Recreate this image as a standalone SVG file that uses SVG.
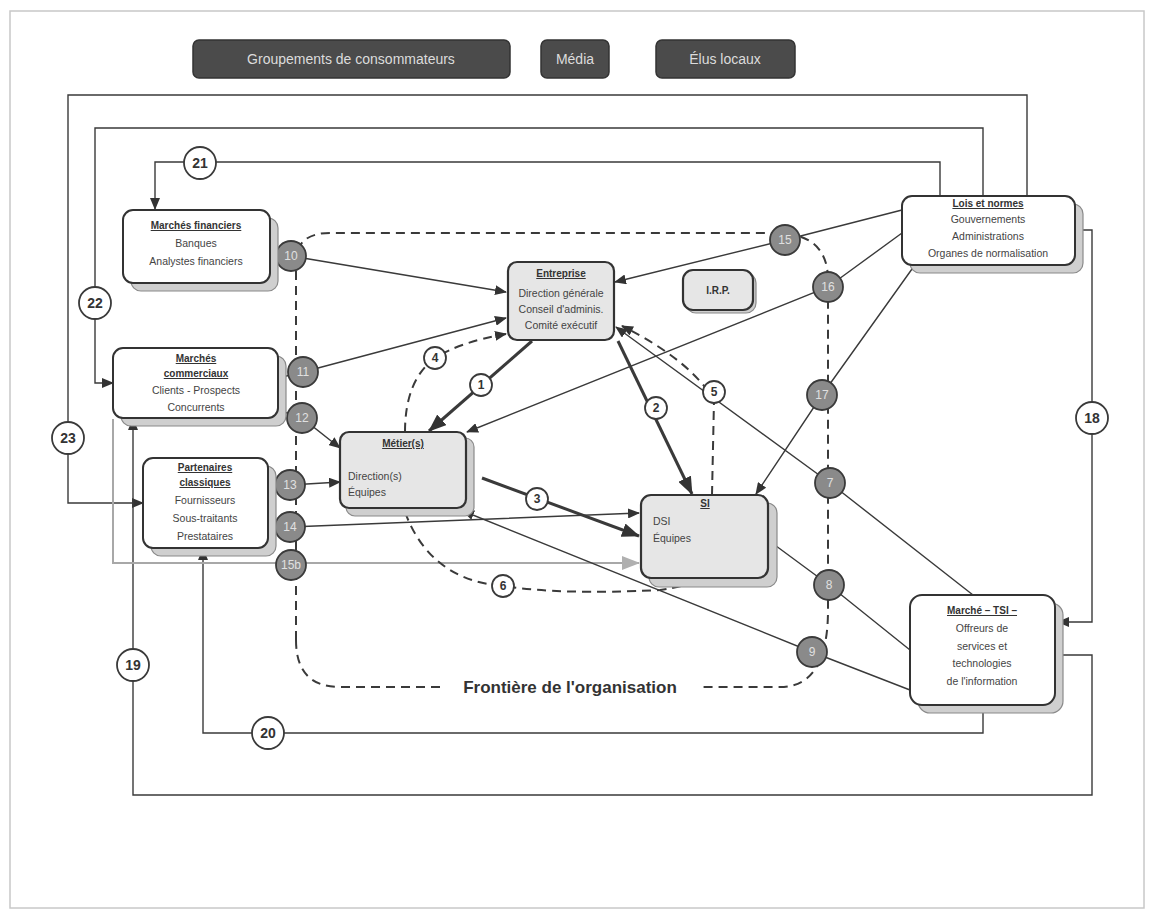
<svg xmlns="http://www.w3.org/2000/svg" width="1151" height="915" viewBox="0 0 1151 915">
<defs>
<style>
.bg{fill:#fff}
.frame{fill:none;stroke:#c8c8c8;stroke-width:1.5}
.top{fill:#4b4b4b;stroke:#333;stroke-width:1.5}
.toptxt{font-family:"Liberation Sans",Arial,sans-serif;font-size:14px;fill:#dcdcdc;text-anchor:middle}
.box{fill:#fff;stroke:#333;stroke-width:2}
.gbox{fill:#e6e6e6;stroke:#333;stroke-width:2.2}
.shadow{fill:#cfcfcf;stroke:#8a8a8a;stroke-width:1.2}
.t{font-family:"Liberation Sans",Arial,sans-serif;font-size:10.5px;fill:#444;text-anchor:middle}
.tl{font-family:"Liberation Sans",Arial,sans-serif;font-size:10.5px;fill:#444}
.tt{font-family:"Liberation Sans",Arial,sans-serif;font-size:10px;font-weight:bold;fill:#333;text-anchor:middle;text-decoration:underline}
.ln{fill:none;stroke:#3a3a3a;stroke-width:1.4}
.thick{fill:none;stroke:#3a3a3a;stroke-width:3}
.dash{fill:none;stroke:#3a3a3a;stroke-width:2;stroke-dasharray:9 6}
.gray{fill:none;stroke:#a8a8a8;stroke-width:2}
.cg{fill:#8a8a8a;stroke:#3a3a3a;stroke-width:1.8}
.cw{fill:#fff;stroke:#3a3a3a;stroke-width:1.8}
.ng{font-family:"Liberation Sans",Arial,sans-serif;font-size:12px;fill:#e0e0e0;text-anchor:middle}
.nw{font-family:"Liberation Sans",Arial,sans-serif;font-size:12px;font-weight:bold;fill:#333;text-anchor:middle}
.nb{font-family:"Liberation Sans",Arial,sans-serif;font-size:14px;font-weight:bold;fill:#333;text-anchor:middle}
.front{font-family:"Liberation Sans",Arial,sans-serif;font-size:17px;font-weight:bold;fill:#333;text-anchor:middle}
</style>
<marker id="a" markerWidth="12" markerHeight="10" refX="11" refY="5" orient="auto" markerUnits="userSpaceOnUse"><path d="M0,0 L12,5 L0,10 Z" fill="#333"/></marker>
<marker id="ab" markerWidth="18" markerHeight="14" refX="17" refY="7" orient="auto" markerUnits="userSpaceOnUse"><path d="M0,0 L18,7 L0,14 Z" fill="#333"/></marker>
<marker id="ag" markerWidth="18" markerHeight="14" refX="17" refY="7" orient="auto" markerUnits="userSpaceOnUse"><path d="M0,0 L18,7 L0,14 Z" fill="#b0b0b0"/></marker>
</defs>
<rect class="bg" x="0" y="0" width="1151" height="915"/>
<rect class="frame" x="10" y="11" width="1134" height="897"/>

<g id="top-boxes">
<g id="groupements"><rect class="top" x="193" y="40" width="317" height="38" rx="6"/><text class="toptxt" x="351" y="64">Groupements de consommateurs</text></g>
<g id="media"><rect class="top" x="541" y="40" width="68" height="38" rx="6"/><text class="toptxt" x="575" y="64">Média</text></g>
<g id="elus"><rect class="top" x="656" y="40" width="139" height="38" rx="6"/><text class="toptxt" x="725" y="64">Élus locaux</text></g>
</g>

<g id="connectors">
<path class="dash" d="M296,640 L296,262 Q296,233 330,233 L775,233 Q828,233 828,280 L828,610 Q828,687 780,687 L700,687"/>
<path class="dash" d="M440,687 L340,687 Q296,687 296,640"/>
<path class="ln" d="M1027,197 L1027,95 L68,95 L68,503 L143,503" marker-end="url(#a)"/>
<path class="ln" d="M983,197 L983,128 L95,128 L95,383 L113,383" marker-end="url(#a)"/>
<path class="ln" d="M940,197 L940,162 L155,162 L155,209" marker-end="url(#a)"/>
<path class="ln" d="M1075,230 L1092,230 L1092,622 L1058,622" marker-end="url(#a)"/>
<path class="ln" d="M1055,655 L1092,655 L1092,795 L133,795 L133,419" marker-end="url(#a)"/>
<path class="ln" d="M983,705 L983,733 L203,733 L203,549" marker-end="url(#a)"/>
<path class="gray" d="M113,419 L113,563 L639,563" marker-end="url(#ag)"/>
<path class="ln" d="M270,247 L291,256 L506,292" marker-end="url(#a)"/>
<path class="ln" d="M278,378 L303,372 L506,318" marker-end="url(#a)"/>
<path class="ln" d="M278,410 L302,418 L340,448" marker-end="url(#a)"/>
<path class="ln" d="M268,485 L290,485 L340,482" marker-end="url(#a)"/>
<path class="ln" d="M268,527 L290,527 L639,513" marker-end="url(#a)"/>
<path class="ln" d="M902,210 L785,240 L615,282" marker-end="url(#a)"/>
<path class="ln" d="M902,233 L828,287 L467,432" marker-end="url(#a)"/>
<path class="ln" d="M917,262 L822,395 L756,494" marker-end="url(#a)"/>
<path class="ln" d="M973,595 L830,483 L616,327" marker-end="url(#a)"/>
<path class="ln" d="M768,540 L829,585 L910,650"/>
<path class="ln" d="M910,690 L812,652 L463,511" marker-end="url(#a)"/>
<path class="thick" d="M532,341 L429,431" marker-end="url(#ab)"/>
<path class="thick" d="M618,341 L692,494" marker-end="url(#ab)"/>
<path class="thick" d="M482,478 L639,536" marker-end="url(#ab)"/>
<path class="dash" d="M405,432 Q405,380 435,358 Q460,342 506,334" marker-end="url(#a)"/>
<path class="dash" d="M712,495 L714,400 Q690,360 622,326" marker-end="url(#a)"/>
<path class="dash" d="M405,512 Q430,580 503,586 Q560,595 660,590 Q690,586 690,580"/>
</g>

<g id="circles">
<g id="c1"><circle class="cw" cx="481" cy="385" r="11"/><text class="nw" x="481" y="389">1</text></g>
<g id="c2"><circle class="cw" cx="656" cy="408" r="11"/><text class="nw" x="656" y="412">2</text></g>
<g id="c3"><circle class="cw" cx="537" cy="499" r="11"/><text class="nw" x="537" y="503">3</text></g>
<g id="c4"><circle class="cw" cx="435" cy="358" r="11"/><text class="nw" x="435" y="362">4</text></g>
<g id="c5"><circle class="cw" cx="714" cy="392" r="11"/><text class="nw" x="714" y="396">5</text></g>
<g id="c6"><circle class="cw" cx="503" cy="586" r="11"/><text class="nw" x="503" y="590">6</text></g>
<g id="c7"><circle class="cg" cx="830" cy="483" r="15"/><text class="ng" x="830" y="487">7</text></g>
<g id="c8"><circle class="cg" cx="829" cy="585" r="15"/><text class="ng" x="829" y="589">8</text></g>
<g id="c9"><circle class="cg" cx="812" cy="652" r="15"/><text class="ng" x="812" y="656">9</text></g>
<g id="c10"><circle class="cg" cx="291" cy="256" r="15"/><text class="ng" x="291" y="260">10</text></g>
<g id="c11"><circle class="cg" cx="303" cy="372" r="15"/><text class="ng" x="303" y="376">11</text></g>
<g id="c12"><circle class="cg" cx="302" cy="418" r="15"/><text class="ng" x="302" y="422">12</text></g>
<g id="c13"><circle class="cg" cx="290" cy="485" r="15"/><text class="ng" x="290" y="489">13</text></g>
<g id="c14"><circle class="cg" cx="290" cy="527" r="15"/><text class="ng" x="290" y="531">14</text></g>
<g id="c15b"><circle class="cg" cx="291" cy="565" r="15"/><text class="ng" x="291" y="569">15b</text></g>
<g id="c15"><circle class="cg" cx="785" cy="240" r="15"/><text class="ng" x="785" y="244">15</text></g>
<g id="c16"><circle class="cg" cx="828" cy="287" r="15"/><text class="ng" x="828" y="291">16</text></g>
<g id="c17"><circle class="cg" cx="822" cy="395" r="15"/><text class="ng" x="822" y="399">17</text></g>
<g id="c18"><circle class="cw" cx="1092" cy="418" r="16"/><text class="nb" x="1092" y="423">18</text></g>
<g id="c19"><circle class="cw" cx="133" cy="665" r="16"/><text class="nb" x="133" y="670">19</text></g>
<g id="c20"><circle class="cw" cx="268" cy="733" r="16"/><text class="nb" x="268" y="738">20</text></g>
<g id="c21"><circle class="cw" cx="200" cy="163" r="16"/><text class="nb" x="200" y="168">21</text></g>
<g id="c22"><circle class="cw" cx="95" cy="303" r="16"/><text class="nb" x="95" y="308">22</text></g>
<g id="c23"><circle class="cw" cx="68" cy="438" r="16"/><text class="nb" x="68" y="443">23</text></g>
</g>

<g id="frontiere"><rect x="445" y="676" width="250" height="22" fill="#fff"/><text class="front" x="570" y="693">Frontière de l'organisation</text></g>

<g id="marches-financiers">
<rect class="shadow" x="131" y="218" width="147" height="73" rx="10"/>
<rect class="box" x="123" y="210" width="147" height="73" rx="10"/>
<text class="tt" x="196" y="229">Marchés financiers</text>
<text class="t" x="196" y="247">Banques</text>
<text class="t" x="196" y="265">Analystes financiers</text>
</g>

<g id="marches-commerciaux">
<rect class="shadow" x="121" y="356" width="165" height="70" rx="10"/>
<rect class="box" x="113" y="348" width="165" height="70" rx="10"/>
<text class="tt" x="196" y="362">Marchés</text>
<text class="tt" x="196" y="377">commerciaux</text>
<text class="t" x="196" y="394">Clients - Prospects</text>
<text class="t" x="196" y="411">Concurrents</text>
</g>

<g id="partenaires">
<rect class="shadow" x="151" y="466" width="125" height="90" rx="10"/>
<rect class="box" x="143" y="458" width="125" height="90" rx="10"/>
<text class="tt" x="205" y="471">Partenaires</text>
<text class="tt" x="205" y="486">classiques</text>
<text class="t" x="205" y="504">Fournisseurs</text>
<text class="t" x="205" y="522">Sous-traitants</text>
<text class="t" x="205" y="540">Prestataires</text>
</g>

<g id="entreprise">
<rect class="gbox" x="508" y="262" width="106" height="78" rx="9"/>
<text class="tt" x="561" y="277">Entreprise</text>
<text class="t" x="561" y="297">Direction générale</text>
<text class="t" x="561" y="313">Conseil d'adminis.</text>
<text class="t" x="561" y="329">Comité exécutif</text>
</g>

<g id="irp">
<rect class="shadow" x="686" y="273" width="70" height="40" rx="10"/>
<rect class="gbox" x="683" y="270" width="70" height="40" rx="10"/>
<text class="tt" x="718" y="294" style="text-decoration:none">I.R.P.</text>
</g>

<g id="metiers">
<rect class="shadow" x="346" y="438" width="128" height="78" rx="9"/>
<rect class="gbox" x="340" y="432" width="126" height="76" rx="9"/>
<text class="tt" x="403" y="447">Métier(s)</text>
<text class="tl" x="348" y="480">Direction(s)</text>
<text class="tl" x="348" y="496">Équipes</text>
</g>

<g id="si">
<rect class="shadow" x="649" y="503" width="128" height="84" rx="10"/>
<rect class="gbox" x="641" y="495" width="127" height="83" rx="10"/>
<text class="tt" x="705" y="507">SI</text>
<text class="tl" x="653" y="525">DSI</text>
<text class="tl" x="653" y="542">Équipes</text>
</g>

<g id="lois">
<rect class="shadow" x="910" y="204" width="173" height="69" rx="10"/>
<rect class="box" x="902" y="196" width="173" height="69" rx="10"/>
<text class="tt" x="988" y="207">Lois et normes</text>
<text class="t" x="988" y="223">Gouvernements</text>
<text class="t" x="988" y="240">Administrations</text>
<text class="t" x="988" y="257">Organes de normalisation</text>
</g>

<g id="marche-tsi">
<rect class="shadow" x="918" y="603" width="145" height="110" rx="12"/>
<rect class="box" x="910" y="595" width="145" height="110" rx="12"/>
<text class="tt" x="982" y="614">Marché – TSI –</text>
<text class="t" x="982" y="632">Offreurs de</text>
<text class="t" x="982" y="650">services et</text>
<text class="t" x="982" y="667">technologies</text>
<text class="t" x="982" y="685">de l'information</text>
</g>
</svg>
